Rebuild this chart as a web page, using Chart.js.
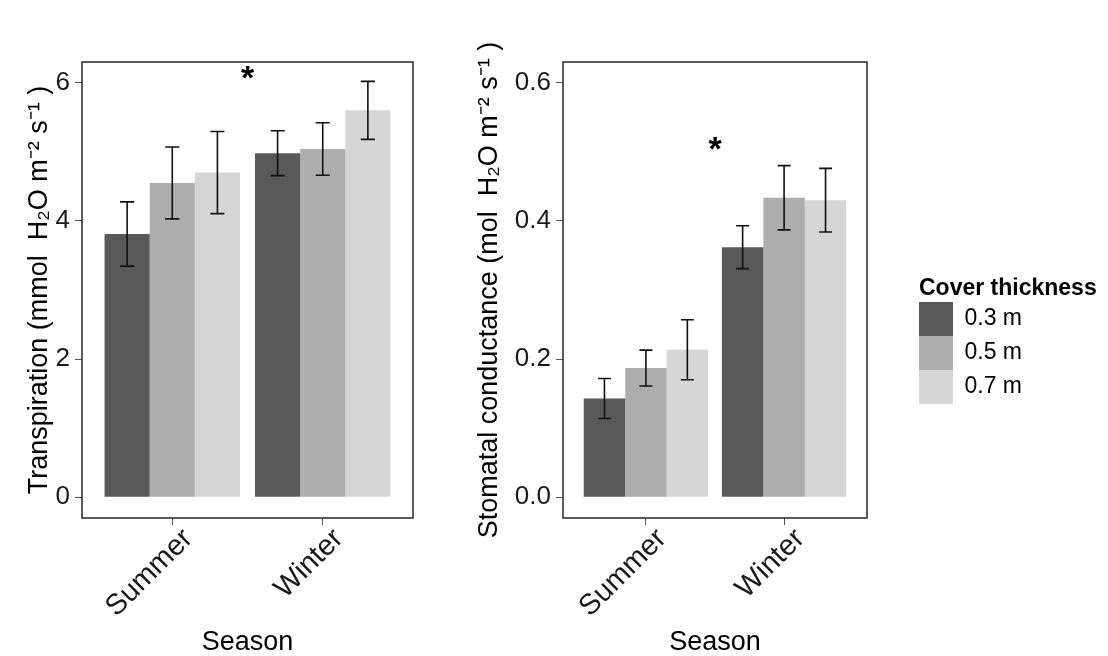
<!DOCTYPE html>
<html><head><meta charset="utf-8">
<script src="https://cdn.jsdelivr.net/npm/chart.js@4/dist/chart.umd.min.js"></script>
<style>
html,body{margin:0;padding:0;background:#fff;width:1108px;height:656px;overflow:hidden}
canvas{position:absolute;top:0}
#c1{left:0}
#c2{left:440px}
</style></head><body>
<canvas id="c1" width="420" height="656"></canvas>
<canvas id="c2" width="668" height="656"></canvas>
<script>
// ---- data ----
const seasons = ['Summer', 'Winter'];
const seasonPos = [1, 2];
const thicknessLabels = ['0.3 m', '0.5 m', '0.7 m'];
const fillColors = ['#595959', '#ADADAD', '#D6D6D6'];

const transp03 = [3.81, 4.98];
const transp05 = [4.55, 5.04];
const transp07 = [4.70, 5.60];
const transpSE03 = [0.465, 0.325];
const transpSE05 = [0.52, 0.38];
const transpSE07 = [0.595, 0.42];
const transpTicks = [0, 2, 4, 6];
const transpTickLabels = ['0', '2', '4', '6'];
const transpStar = [1.5, 6.12];

const cond03 = [0.143, 0.362];
const cond05 = [0.187, 0.4335];
const cond07 = [0.2135, 0.430];
const condSE03 = [0.029, 0.031];
const condSE05 = [0.026, 0.0465];
const condSE07 = [0.0435, 0.046];
const condTicks = [0, 0.2, 0.4, 0.6];
const condTickLabels = ['0.0', '0.2', '0.4', '0.6'];
const condStar = [1.5, 0.51];

const FONT = "'Liberation Sans', Arial, Helvetica, sans-serif";

// ---- plugins ----
const panelBox = {
  id: 'panelBox',
  afterDatasetsDraw(chart) {
    const {ctx, chartArea: a} = chart;
    ctx.save();
    ctx.strokeStyle = '#333';
    ctx.lineWidth = 1.6;
    ctx.strokeRect(a.left, a.top, a.right - a.left, a.bottom - a.top);
    ctx.restore();
  }
};

const errorBars = {
  id: 'errorBars',
  afterDatasetsDraw(chart) {
    const {ctx} = chart;
    const xs = chart.scales.x, ys = chart.scales.y;
    const capHalf = Math.abs(xs.getPixelForValue(1.047) - xs.getPixelForValue(1));
    ctx.save();
    ctx.strokeStyle = '#111';
    ctx.lineWidth = 1.6;
    chart.data.datasets.forEach((ds, i) => {
      const meta = chart.getDatasetMeta(i);
      meta.data.forEach((bar, j) => {
        const m = ds.data[j].y, e = ds.errors[j];
        const yt = ys.getPixelForValue(m + e), yb = ys.getPixelForValue(m - e);
        const x = bar.x;
        ctx.beginPath();
        ctx.moveTo(x, yt); ctx.lineTo(x, yb);
        ctx.moveTo(x - capHalf, yt); ctx.lineTo(x + capHalf, yt);
        ctx.moveTo(x - capHalf, yb); ctx.lineTo(x + capHalf, yb);
        ctx.stroke();
      });
    });
    ctx.restore();
  }
};

const starMark = {
  id: 'starMark',
  afterDatasetsDraw(chart, args, opts) {
    const {ctx} = chart;
    const p = opts.at;
    if (!p) return;
    const size = 34;
    ctx.save();
    ctx.font = 'bold ' + size + 'px ' + FONT;
    ctx.fillStyle = '#000';
    ctx.textAlign = 'center';
    ctx.textBaseline = 'alphabetic';
    const x = chart.scales.x.getPixelForValue(p[0]);
    const y = chart.scales.y.getPixelForValue(p[1]);
    ctx.fillText('*', x, y + size * 0.43);
    ctx.restore();
  }
};

const legendPlace = {
  id: 'legendPlace',
  afterLayout(chart, args, opts) {
    if (!opts || !opts.enabled || !chart.legend) return;
    const lg = chart.legend;
    lg.left = opts.left; lg.top = opts.top;
    lg.width = opts.width; lg.height = opts.height;
    lg.right = opts.left + opts.width; lg.bottom = opts.top + opts.height;
  }
};

function makeChart(canvasId, cfg) {
  const datasets = cfg.means.map((vals, i) => ({
    label: thicknessLabels[i],
    data: vals.map((v, j) => ({x: seasonPos[j], y: v})),
    errors: cfg.ses[i],
    backgroundColor: fillColors[i],
    borderColor: fillColors[i],
    borderWidth: 0,
    categoryPercentage: 0.9,
    barPercentage: 1.0
  }));
  return new Chart(document.getElementById(canvasId), {
    type: 'bar',
    data: {datasets},
    plugins: [panelBox, errorBars, starMark, legendPlace],
    options: {
      responsive: false,
      animation: false,
      devicePixelRatio: 1,
      layout: {padding: cfg.padding},
      scales: {
        x: {
          type: 'linear', min: 0.4, max: 2.6, offset: false,
          afterBuildTicks: s => { s.ticks = seasonPos.map(v => ({value: v})); },
          afterFit: s => { s.height = 138; },
          grid: {display: true, drawOnChartArea: false, drawTicks: true, tickLength: 7, color: '#555', lineWidth: 1, offset: false},
          border: {display: false},
          ticks: {autoSkip: false, maxRotation: 45, minRotation: 45, padding: -3, labelOffset: 16, color: '#1a1a1a',
                  font: {family: FONT, size: 29}, callback: (v, i) => seasons[i]},
          title: {display: true, text: 'Season', color: '#000',
                  font: {family: FONT, size: 27, lineHeight: 1}, padding: {top: 0, bottom: 0}}
        },
        y: {
          type: 'linear', min: cfg.yMin, max: cfg.yMax,
          afterBuildTicks: s => { s.ticks = cfg.ticks.map(v => ({value: v})); },
          afterFit: s => { s.width = cfg.yWidth; },
          grid: {display: true, drawOnChartArea: false, drawTicks: true, tickLength: 7, color: '#555', lineWidth: 1},
          border: {display: false},
          ticks: {padding: 5, color: '#1a1a1a', font: {family: FONT, size: 26},
                  callback: (v, i) => cfg.tickLabels[i]},
          title: {display: true, text: cfg.yTitle, color: '#000',
                  font: {family: FONT, size: 27, lineHeight: 1}, padding: {top: cfg.titlePad, bottom: 0}}
        }
      },
      plugins: {
        tooltip: {enabled: false},
        legend: cfg.legend ? {
          display: true, position: 'chartArea', align: 'start',
          labels: {boxWidth: 34, boxHeight: 34, padding: 0, color: '#000', font: {family: FONT, size: 23}},
          title: {display: true, text: 'Cover thickness', position: 'start', color: '#000',
                  font: {family: FONT, size: 23, weight: 'bold', lineHeight: 1}, padding: {top: 0, bottom: 1.5}}
        } : {display: false},
        legendPlace: cfg.legend ? {enabled: true, left: 479, top: 277.5, width: 189, height: 150} : {enabled: false},
        starMark: {at: cfg.star}
      }
    }
  });
}

makeChart('c1', {
  means: [transp03, transp05, transp07],
  ses: [transpSE03, transpSE05, transpSE07],
  yMin: -0.3, yMax: 6.3, ticks: transpTicks, tickLabels: transpTickLabels,
  yTitle: 'Transpiration (mmol  H\u2082O m\u207B\u00B2 s\u207B\u00B9 )',
  yWidth: 82, titlePad: 26, star: transpStar,
  padding: {top: 62, right: 7, left: 0, bottom: 0}, legend: false
});

makeChart('c2', {
  means: [cond03, cond05, cond07],
  ses: [condSE03, condSE05, condSE07],
  yMin: -0.03, yMax: 0.63, ticks: condTicks, tickLabels: condTickLabels,
  yTitle: 'Stomatal conductance (mol  H\u2082O m\u207B\u00B2 s\u207B\u00B9 )',
  yWidth: 123, titlePad: 36, star: condStar,
  padding: {top: 62, right: 241, left: 0, bottom: 0}, legend: true
});
</script>
</body></html>
